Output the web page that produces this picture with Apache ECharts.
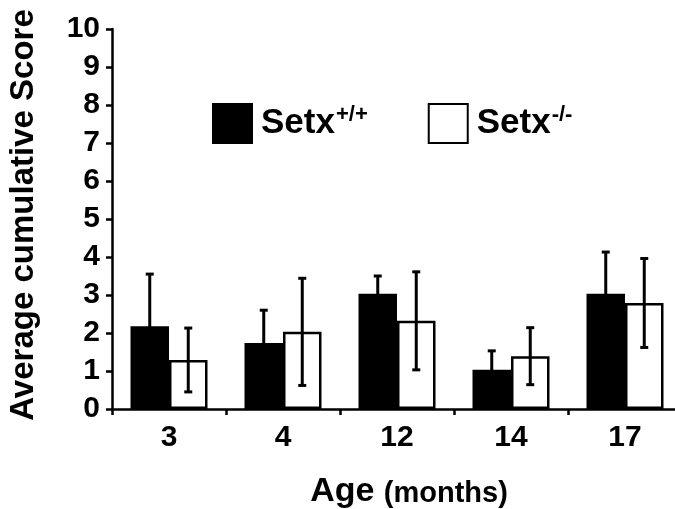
<!DOCTYPE html>
<html>
<head>
<meta charset="utf-8">
<script src="https://cdn.jsdelivr.net/npm/echarts@6/dist/echarts.min.js"></script>
<style>
html,body{margin:0;padding:0;background:#fff;}
#chart{width:675px;height:509px;}
</style>
</head>
<body>
<div id="chart"></div>
<script>
var categories = ['3', '4', '12', '14', '17'];
var wildMeans = [2.18, 1.74, 3.03, 1.03, 3.03];
var wildErr = [1.37, 0.86, 0.47, 0.50, 1.10];
var koMeans = [1.29, 2.03, 2.32, 1.39, 2.79];
var koErr = [0.84, 1.41, 1.29, 0.75, 1.17];
var yTicks = [0, 1, 2, 3, 4, 5, 6, 7, 8, 9, 10];

var FONT = '"Liberation Sans", Arial, Helvetica, sans-serif';
var BAR_W = 38.5;

function errData(means, errs) {
  return means.map(function (m, i) { return [i, m - errs[i], m + errs[i]]; });
}

function errRender(side) {
  return function (params, api) {
    var i = api.value(0);
    var lo = api.coord([i, api.value(1)]);
    var hi = api.coord([i, api.value(2)]);
    var x = lo[0] + side * BAR_W / 2;
    var cap = 4;
    var st = { stroke: '#000', lineWidth: 3 };
    return {
      type: 'group',
      children: [
        { type: 'line', shape: { x1: x, y1: lo[1], x2: x, y2: hi[1] }, style: st },
        { type: 'line', shape: { x1: x - cap, y1: hi[1], x2: x + cap, y2: hi[1] }, style: st },
        { type: 'line', shape: { x1: x - cap, y1: lo[1], x2: x + cap, y2: lo[1] }, style: st }
      ]
    };
  };
}

var chart = echarts.init(document.getElementById('chart'), null, { renderer: 'canvas' });
chart.setOption({
  backgroundColor: '#fff',
  animation: false,
  textStyle: { fontFamily: FONT },
  grid: { left: 112, top: 29, width: 570, height: 380, outerBoundsMode: 'none', containLabel: false },
  legend: {
    left: 212, top: 103, padding: 0,
    itemWidth: 39, itemHeight: 39, itemGap: 60,
    icon: 'rect',
    data: ['Setx+/+', 'Setx-/-'],
    formatter: function (n) {
      return n === 'Setx+/+' ? '{a|Setx}{b|+/+}' : '{a|Setx}{b|-/-}';
    },
    textStyle: {
      padding: [0, 0, 0, 4],
      rich: {
        a: { fontSize: 35, fontWeight: 'bold', color: '#000', fontFamily: FONT, lineHeight: 40 },
        b: { fontSize: 22, fontWeight: 'bold', color: '#000', fontFamily: FONT, verticalAlign: 'top', padding: [0, 0, 14, 1] }
      }
    }
  },
  xAxis: {
    type: 'category',
    data: categories,
    axisLine: { lineStyle: { color: '#000', width: 2.5 } },
    axisTick: { show: true, length: 6, lineStyle: { color: '#000', width: 2.5 } },
    axisLabel: { fontSize: 30, fontWeight: 'bold', color: '#000', margin: 14, fontFamily: FONT },
    name: '{a|Age }{b|(months)}',
    nameLocation: 'middle',
    nameGap: 66,
    nameTextStyle: {
      padding: [0, 0, 0, 24],
      rich: {
        a: { fontSize: 34, fontWeight: 'bold', color: '#000', fontFamily: FONT },
        b: { fontSize: 29, fontWeight: 'bold', color: '#000', fontFamily: FONT, padding: [4, 0, 0, 0] }
      }
    }
  },
  yAxis: {
    type: 'value',
    min: 0, max: 10, interval: 1,
    splitLine: { show: false },
    axisLine: { show: true, lineStyle: { color: '#000', width: 2.5 } },
    axisTick: { show: true, length: 6, lineStyle: { color: '#000', width: 2.5 } },
    axisLabel: {
      fontSize: 30, fontWeight: 'bold', color: '#000', margin: 12, fontFamily: FONT,
      formatter: function (v) { return yTicks.indexOf(v) >= 0 ? String(v) : ''; }
    },
    name: 'Average cumulative Score',
    nameLocation: 'middle',
    nameGap: 72,
    nameTextStyle: { fontSize: 33, fontWeight: 'bold', color: '#000', fontFamily: FONT, padding: [0, 0, 0, 8] }
  },
  series: [
    {
      name: 'Setx+/+', type: 'bar', data: wildMeans,
      barWidth: BAR_W, barGap: '0%',
      itemStyle: { color: '#000', borderColor: '#000', borderWidth: 2 }
    },
    {
      name: 'Setx-/-', type: 'bar', data: koMeans,
      barWidth: BAR_W, barGap: '0%',
      itemStyle: { color: '#fff', borderColor: '#000', borderWidth: 2.5 }
    },
    {
      name: 'errWild', type: 'custom', data: errData(wildMeans, wildErr),
      renderItem: errRender(-1), encode: { x: 0, y: [1, 2] }, z: 5
    },
    {
      name: 'errKo', type: 'custom', data: errData(koMeans, koErr),
      renderItem: errRender(1), encode: { x: 0, y: [1, 2] }, z: 5
    }
  ]
});
</script>
</body>
</html>
